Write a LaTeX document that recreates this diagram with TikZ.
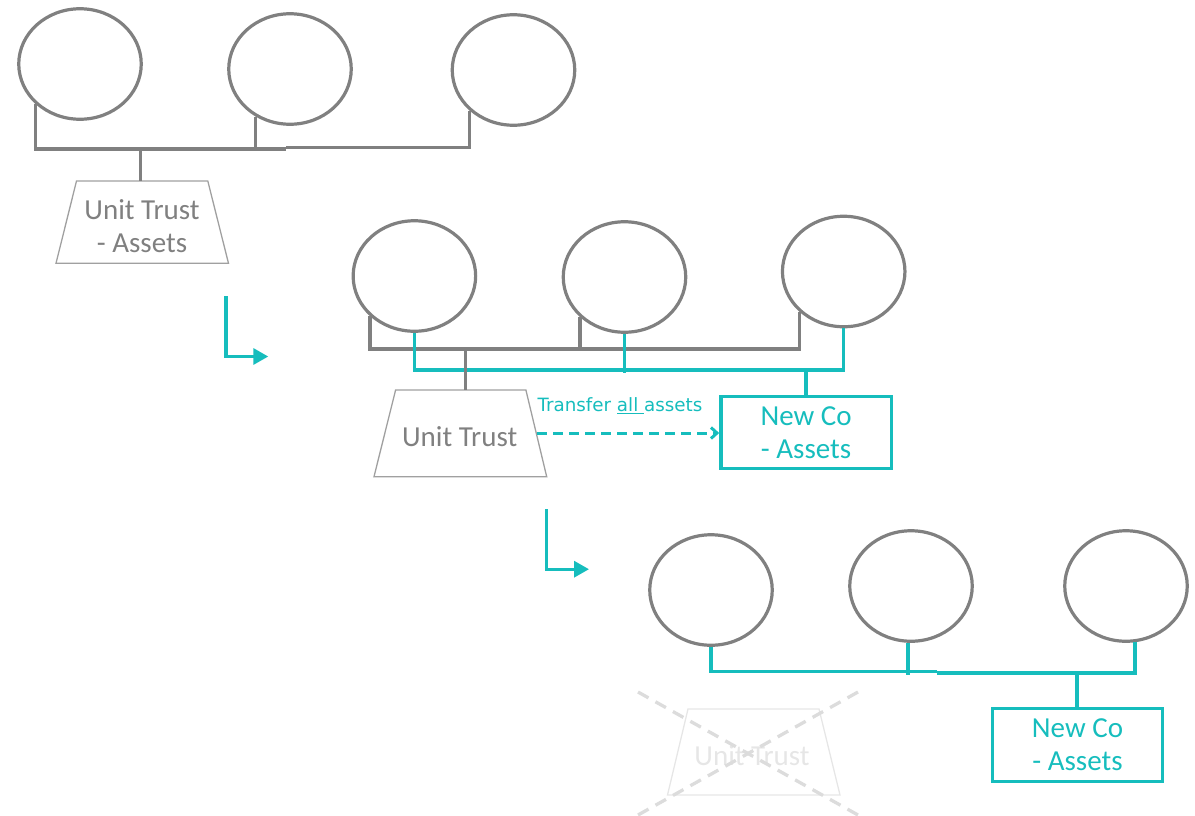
\documentclass[tikz,border=0pt]{standalone}
\usepackage{fontspec}
\setmainfont{Carlito}
\newfontfamily\notefont{DejaVu Sans}
\usetikzlibrary{shapes.geometric,arrows.meta,calc}
\definecolor{linegray}{RGB}{128,128,128}
\definecolor{tealc}{RGB}{22,189,189}
\definecolor{trapgray}{RGB}{160,160,160}
\definecolor{fadegray}{RGB}{230,230,230}
\definecolor{crossgray}{RGB}{220,220,220}

\begin{document}
\begin{tikzpicture}[x=1pt,y=-1pt,
  holder/.style={ellipse, draw=linegray, line width=3.2pt, minimum width=122.5pt, minimum height=110.5pt, inner sep=0pt},
  graybus/.style={draw=linegray, line width=3.3pt},
  tealbus/.style={draw=tealc, line width=3.3pt},
  entitytext/.style={font=\fontsize{29}{33}\selectfont, align=center, inner sep=0pt},
  trustnode/.style={entitytext, text=linegray},
  newco/.style={entitytext, text=tealc, draw=tealc, line width=3.3pt, minimum width=170.5pt, minimum height=72.5pt},
  trap/.style={draw=trapgray, line width=1.3pt},
  fadetrap/.style={draw=fadegray, line width=1.3pt},
  cross/.style={draw=crossgray, line width=3.3pt, dash pattern=on 12pt off 8pt},
  steparrow/.style={tealbus, -{Triangle[length=15pt,width=16pt]}},
  transfer/.style={draw=tealc, line width=3pt, dash pattern=on 10pt off 6pt, -{Straight Barb[length=6pt,width=11pt]}},
  note/.style={font=\notefont\fontsize{18.3}{21}\selectfont, text=tealc, inner sep=0pt, anchor=base west},
]
\useasboundingbox (0,0) rectangle (1195,815);

% ---------- before: unit trust holds the assets ----------
\node[holder] (a1) at (80,64) {};
\node[holder] (a2) at (290,69) {};
\node[holder] (a3) at (513.5,70) {};
\draw[trap] (76.5,181) -- (207.8,181) -- (228.5,263.3) -- (56,263.3) -- cycle;
\node[trustnode] (ut1) at (142,226.4) {Unit Trust\\- Assets};
\coordinate (bus1) at (140.8,149);
\coordinate (ut1top) at (140.8,181);
\draw[graybus] (a1.-138) |- (286,149);
\draw[graybus] (a2.-126) -- (a2.-126 |- bus1);
\draw[graybus] (286,147.7) -| (a3.-137);
\draw[graybus] (bus1) -- (ut1top);

% step arrow
\coordinate (s1a) at (226,296);
\coordinate (s1b) at (268.3,356.5);
\draw[steparrow] (s1a) |- (s1b);

% ---------- during: new company set up, assets transferred ----------
\node[holder] (b1) at (414.4,276) {};
\node[holder] (b2) at (624.5,277) {};
\node[holder] (b3) at (843.7,271.5) {};
\coordinate (bus2) at (465.2,349);
\coordinate (ut2top) at (465.2,390);
\coordinate (tbus2) at (805.9,370);
\draw[trap] (395.6,390) -- (525.9,390) -- (546.7,476.7) -- (374,476.7) -- cycle;
\node[trustnode] (ut2) at (459.7,437) {Unit Trust};
\node[newco] (nc1) at (806.1,432.5) {New Co\\- Assets};
\draw[graybus] (b1.-138) |- (b3.-138 |- bus2) -- (b3.-138);
\draw[graybus] (b2.-138) -- (b2.-138 |- bus2);
\draw[tealbus] (b1.south) |- (b3.south |- tbus2) -- (b3.south);
\draw[tealbus] (b2.south) -- ($(b2.south |- tbus2)+(0,2.7)$);
\draw[tealbus] (tbus2) -- (tbus2 |- nc1.north);
\draw[graybus] (bus2) -- (ut2top);
\coordinate (ut2edge) at (537.4,433);
\draw[transfer] (ut2edge) -- (nc1.west |- ut2edge);
\node[note] (tlabel) at (537.4,411.7) {Transfer \underline{all }assets};

% step arrow
\coordinate (s2a) at (546.7,509);
\coordinate (s2b) at (589,569.2);
\draw[steparrow] (s2a) |- (s2b);

% ---------- after: unit trust wound up ----------
\node[holder] (c1) at (711,590) {};
\node[holder] (c2) at (911,586) {};
\node[holder] (c3) at (1126,586) {};
\node[newco] (nc2) at (1077.5,745) {New Co\\- Assets};
\coordinate (tbus3) at (1077,673);
\draw[tealbus] (c1.south) |- (937,671.7);
\draw[tealbus] (937,673) -| (c3.-81);
\draw[tealbus] (c2.-93) -- ($(c2.-93 |- tbus3)+(0,2)$);
\draw[tealbus] (tbus3) -- (tbus3 |- nc2.north);
\draw[fadetrap] (688,709) -- (819,709) -- (840,795) -- (667.5,795) -- cycle;
\node[trustnode, text=fadegray] (ut3) at (752,756) {Unit Trust};
\draw[cross] (638,692) -- (858,815);
\draw[cross] (858,692) -- (638,815);
\end{tikzpicture}
\end{document}
